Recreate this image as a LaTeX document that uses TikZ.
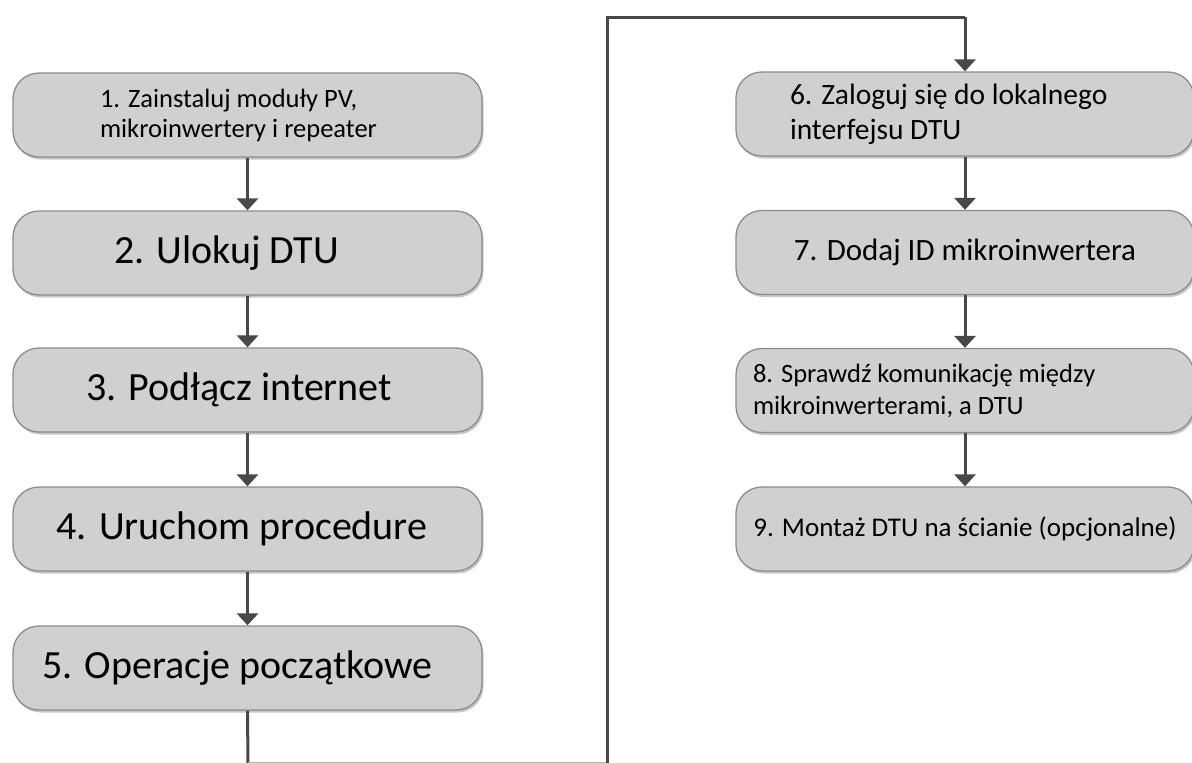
\documentclass[tikz,border=0pt]{standalone}
\usepackage{fontspec}
\setmainfont{Carlito}
\usetikzlibrary{arrows.meta,shadows}
\definecolor{boxfill}{RGB}{208,208,208}
\definecolor{boxline}{RGB}{140,140,140}
\definecolor{conncol}{RGB}{72,72,72}
\tikzset{
  stepbox/.style={draw=boxline, line width=1.3pt, fill=boxfill, rounded corners=26pt,
    minimum height=84pt, inner sep=0pt,
    drop shadow={shadow xshift=1.5pt, shadow yshift=-2.5pt, fill=black, opacity=0.22}},
  leftbox/.style={stepbox, minimum width=469pt},
  rightbox/.style={stepbox, minimum width=458pt},
  big/.style={font=\fontsize{40}{48}\selectfont},
  conn/.style={draw=conncol, line width=3pt, -{Triangle[width=21pt,length=12pt]}},
  connplain/.style={draw=conncol, line width=3pt}
}
\begin{document}
\begin{tikzpicture}[x=1pt,y=-1pt]
\useasboundingbox (0,0) rectangle (1192,763);
\fill[white] (0,0) rectangle (1192,763);
\clip (0,0) rectangle (1192,763);
% left column
\node[leftbox, text width=295pt, align=flush left, font=\fontsize{26.5}{30}\selectfont] (b1) at (247.5,115)
  {1. Zainstaluj moduły PV,\\mikroinwertery i repeater};
\node[leftbox, big] (b2) at (247.5,253) {2. Ulokuj DTU\hspace*{42pt}};
\node[leftbox, big] (b3) at (247.5,390) {3. Podłącz internet\hspace*{17pt}};
\node[leftbox, big] (b4) at (247.5,529) {4. Uruchom procedure\hspace*{11pt}};
\node[leftbox, big] (b5) at (247.5,668) {5. Operacje początkowe\hspace*{20pt}};
% right column
\node[rightbox, text width=350pt, align=flush left, font=\fontsize{29.5}{35}\selectfont] (b6) at (965,114)
  {6. Zaloguj się do lokalnego\\interfejsu DTU};
\node[rightbox, font=\fontsize{31}{36}\selectfont] (b7) at (965,252.5) {7. Dodaj ID mikroinwertera};
\node[rightbox, text width=424pt, align=flush left, font=\fontsize{26.5}{32}\selectfont] (b8) at (965,390.5)
  {8. Sprawdź komunikację między\\mikroinwerterami, a DTU};
\node[rightbox, font=\fontsize{27}{32}\selectfont] (b9) at (965,529) {\raisebox{5pt}{9. Montaż DTU na ścianie (opcjonalne)}};
% connectors
\draw[conn] (b1) -- (b2);
\draw[conn] (b2) -- (b3);
\draw[conn] (b3) -- (b4);
\draw[conn] (b4) -- (b5);
\coordinate (c1) at (248,763);
\coordinate (c2) at (607,763);
\coordinate (c3) at (607,17);
\coordinate (c4) at (965,17);
\draw[connplain] (b5.south) -- (c1);
\draw[draw=conncol!40, line width=3pt] (c1) -- (c2);
\draw[connplain, line join=miter] (c2) -- (c3) -- (c4);
\draw[conn] (c4) -- (b6.north);
\draw[conn] (b6) -- (b7);
\draw[conn] (b7) -- (b8);
\draw[conn] (b8) -- (b9);
\end{tikzpicture}
\end{document}
